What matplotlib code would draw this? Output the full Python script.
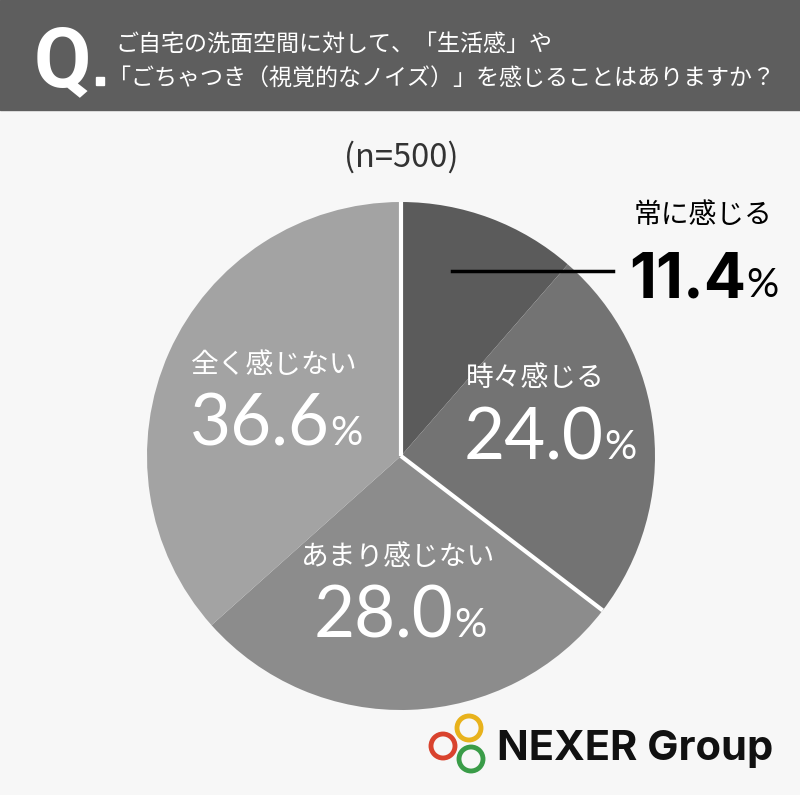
import numpy as np
import matplotlib
matplotlib.use("Agg")
import matplotlib.pyplot as plt
from matplotlib.patches import Rectangle, Circle

plt.rcParams['font.family'] = ['Noto Sans CJK JP', 'DejaVu Sans']

# data
labels = ['常に感じる', '時々感じる', 'あまり感じない', '全く感じない']
values = [11.4, 24.0, 28.0, 36.6]
colors = ['#5b5b5b', '#737373', '#8c8c8c', '#a3a3a3']
groups = [values[0] + values[1], values[2] + values[3]]  # 感じる / 感じない

title1 = 'ご自宅の洗面空間に対して、「生活感」や'
title2 = '「ごちゃつき（視覚的なノイズ）」を感じることはありますか？'
n_text = '(n=500)'

W, H = 800, 795
fig = plt.figure(figsize=(W / 100, H / 100), dpi=100)
fig.patch.set_facecolor('#f7f7f7')

# pie
cx, cy, r = 401, 456, 254
ax = fig.add_axes([(cx - r) / W, 1 - (cy + r) / H, 2 * r / W, 2 * r / H])
ax.pie(values, colors=colors, startangle=90, counterclock=False,
       wedgeprops=dict(linewidth=0))
# white separators between the "感じる" and "感じない" groups
cum = np.concatenate([[0], np.cumsum(groups)[:-1]])
for c in cum:
    th = np.deg2rad(90 - 360 * c / 100)
    ax.plot([0, np.cos(th)], [0, np.sin(th)], color='white', lw=3,
            solid_capstyle='butt')
ax.set_xlim(-1, 1)
ax.set_ylim(-1, 1)
ax.set_aspect('equal')
ax.axis('off')

# overlay in pixel coords
ov = fig.add_axes([0, 0, 1, 1])
ov.set_xlim(0, W)
ov.set_ylim(H, 0)
ov.axis('off')

ov.add_patch(Rectangle((0, 0), W, 110, color='#5e5e5e', zorder=0))
ov.text(62, 86, 'Q', color='white', fontsize=60, fontweight='bold',
        ha='center', va='baseline', family=['Roboto', 'DejaVu Sans'])
ov.add_patch(Rectangle((96, 77), 8, 8, color='white'))
ov.text(115, 44, title1, color='white', fontsize=16.6, ha='left', va='center')
ov.text(108, 78, title2, color='white', fontsize=16.6, ha='left', va='center')
ov.text(401, 157, n_text, color='#333333', fontsize=23.5, ha='center', va='center')

# leader line for smallest slice
ov.plot([452, 613], [271, 271], color='black', lw=2.5, zorder=5)

# labels: (name x, name y, right edge of %, number baseline, color, weight, font, size)
lab_pos = [
    (634, 215, 779, 297, 'black', 'bold', 'Inter', 45),
    (466, 378, 637, 459, 'white', 'normal', 'Lato', 51),
    (301, 557, 487, 637, 'white', 'normal', 'Lato', 51),
    (191, 365, 363, 445, 'white', 'normal', 'Lato', 51),
]
fig.canvas.draw()
rend = fig.canvas.get_renderer()
inv = ov.transData.inverted()
for lab, v, (nx, ny, px, vy, c, wt, fam, sz) in zip(labels, values, lab_pos):
    ov.text(nx, ny, lab, color=c, fontsize=20, ha='left', va='center', zorder=6)
    p = ov.text(px, vy, '%', color=c, fontsize=29, ha='right', va='baseline',
                family=['Lato', 'DejaVu Sans'], zorder=6)
    bb = p.get_window_extent(rend)
    x0 = inv.transform((bb.x0, bb.y0))[0]
    ov.text(x0 - 1, vy, f'{v:.1f}', color=c, fontsize=sz, ha='right', va='baseline',
            family=[fam, 'DejaVu Sans'], fontweight=wt, zorder=6)

# logo
for (x, y, col) in [(469, 728, '#e8b21c'), (443, 746, '#d9432e'), (471, 759, '#3a9c48')]:
    ov.add_patch(Circle((x, y), 12, fill=False, edgecolor=col, lw=3.5, zorder=6))
ov.text(497, 760, 'NEXER Group', color='#111111', fontsize=30, fontweight='bold',
        ha='left', va='baseline', family=['Inter', 'DejaVu Sans'])

fig.savefig('out.png', dpi=100, facecolor=fig.get_facecolor())
